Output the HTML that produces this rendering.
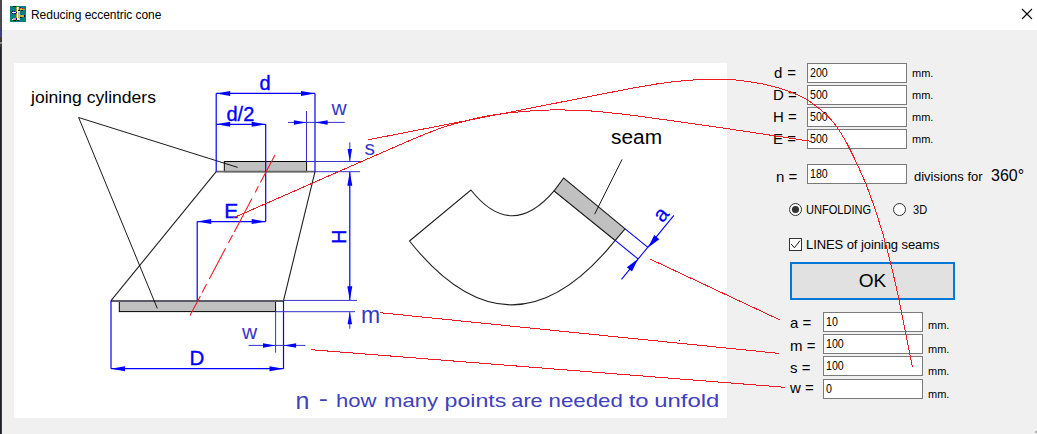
<!DOCTYPE html>
<html><head><meta charset="utf-8"><title>Reducing eccentric cone</title>
<style>
html,body{margin:0;padding:0;}
body{width:1037px;height:434px;background:#f0f0f0;position:relative;overflow:hidden;font-family:"Liberation Sans",sans-serif;color:#000;}
.abs{position:absolute;white-space:nowrap;line-height:1;}
#titlebar{position:absolute;left:0;top:0;width:1037px;height:30px;background:#fff;}
#panel{position:absolute;left:14px;top:63px;width:713px;height:355px;background:#fff;}
.inp{position:absolute;box-sizing:border-box;width:100px;height:20px;background:#fff;border:1px solid #7a7a7a;font-size:11px;line-height:18px;padding-left:1.6px;}
.v{display:inline-block;font-size:12.7px;transform:scaleX(0.84);transform-origin:0 50%;}
.lbl{position:absolute;font-size:15px;line-height:1;white-space:nowrap;}
.mm{position:absolute;font-size:11px;line-height:1;white-space:nowrap;}
.t13{position:absolute;font-size:13px;line-height:1;white-space:nowrap;}
svg{position:absolute;left:0;top:0;}
</style></head><body>
<div id="titlebar"></div>
<div id="panel"></div>
<div class="abs" id="title" style="left:31px;top:9px;font-size:12px;letter-spacing:-0.045px;">Reducing eccentric cone</div>

<!-- right form -->
<div class="lbl" style="left:774px;top:65px;">d<span style="margin-left:0.8px"> =</span></div>
<div class="lbl" style="left:773px;top:87px;">D =</div>
<div class="lbl" style="left:773px;top:109px;">H =</div>
<div class="lbl" style="left:773px;top:131px;">E =</div>
<div class="inp" style="left:807px;top:63px;"><span class="v">200</span></div>
<div class="inp" style="left:807px;top:85px;"><span class="v">500</span></div>
<div class="inp" style="left:807px;top:107px;"><span class="v">500</span></div>
<div class="inp" style="left:807px;top:129px;"><span class="v">500</span></div>
<div class="mm" style="left:912px;top:68px;">mm.</div>
<div class="mm" style="left:912px;top:90px;">mm.</div>
<div class="mm" style="left:912px;top:112px;">mm.</div>
<div class="mm" style="left:912px;top:134px;">mm.</div>

<div class="lbl" style="left:776px;top:169px;">n =</div>
<div class="inp" style="left:807px;top:164px;"><span class="v">180</span></div>
<div class="t13" style="left:914px;top:170px;">divisions for</div>
<div class="lbl" style="left:991px;top:168px;font-size:16px;">360°</div>

<div class="t13" style="left:806px;top:203px;transform:scaleX(0.85);transform-origin:0 0;">UNFOLDING</div>
<div class="t13" style="left:913px;top:203px;transform:scaleX(0.85);transform-origin:0 0;">3D</div>
<div class="t13" style="left:806px;top:238px;letter-spacing:-0.08px;">LINES of joining seams</div>

<div class="abs" id="ok" style="left:790px;top:262px;width:165px;height:38px;box-sizing:border-box;border:2px solid #0078d7;background:#e1e1e1;text-align:center;font-size:19px;line-height:34px;">OK</div>

<div class="lbl" style="left:790px;top:315px;">a =</div>
<div class="lbl" style="left:790px;top:338px;">m =</div>
<div class="lbl" style="left:790px;top:360px;">s =</div>
<div class="lbl" style="left:790px;top:380px;">w =</div>
<div class="inp" style="left:823px;top:312px;"><span class="v">10</span></div>
<div class="inp" style="left:823px;top:334px;"><span class="v">100</span></div>
<div class="inp" style="left:823px;top:356px;"><span class="v">100</span></div>
<div class="inp" style="left:823px;top:379px;"><span class="v">0</span></div>
<div class="mm" style="left:928px;top:320px;">mm.</div>
<div class="mm" style="left:928px;top:344px;">mm.</div>
<div class="mm" style="left:928px;top:366px;">mm.</div>
<div class="mm" style="left:928px;top:389px;">mm.</div>

<svg id="dia" width="1037" height="434" viewBox="0 0 1037 434" style="pointer-events:none">
<defs>
<path id="ah" d="M0 0 L14 -2.5 L14 2.5 Z" fill="#0000ff"/>
<path id="ah2" d="M0 0 L13.5 -3.3 L13.5 3.3 Z" fill="#0000ff"/>
</defs>
<!-- left band -->
<rect x="0" y="0" width="2" height="434" fill="#1c2024"/>
<rect x="0" y="0" width="2" height="28" fill="#4a4a4e"/>
<rect x="0" y="28" width="2" height="9" fill="#40407c"/>
<rect x="0" y="37" width="2" height="10" fill="#3a3a3a"/>
<rect x="0" y="42" width="2" height="2" fill="#8a8a8a"/>
<rect x="1" y="47" width="1" height="387" fill="#3a3e42"/>
<rect x="1035" y="431" width="2" height="2" fill="#b4b4b4"/>

<!-- close X -->
<path d="M1022 9 L1032 19 M1032 9 L1022 19" stroke="#000" stroke-width="1.1" fill="none"/>

<!-- icon -->
<g id="icon" shape-rendering="crispEdges">
<rect x="10" y="6" width="16" height="16" fill="#008080"/>
<rect x="13" y="6" width="1" height="1" fill="#000"/>
<rect x="14" y="6" width="2" height="1" fill="#000040"/>
<rect x="16" y="6" width="1" height="1" fill="#00a000"/>
<rect x="16" y="7" width="1" height="1" fill="#b0a020"/>
<rect x="17" y="7" width="1" height="1" fill="#fff"/>
<rect x="18" y="7" width="1" height="1" fill="#f0f0f0"/>
<rect x="20" y="7" width="1" height="1" fill="#0000c0"/>
<rect x="16" y="8" width="1" height="1" fill="#b0a020"/>
<rect x="17" y="8" width="1" height="1" fill="#fff"/>
<rect x="18" y="8" width="1" height="1" fill="#c8c8c8"/>
<rect x="20" y="8" width="2" height="1" fill="#c0b030"/>
<rect x="22" y="8" width="1" height="1" fill="#e00000"/>
<rect x="23" y="8" width="1" height="1" fill="#00a000"/>
<rect x="16" y="9" width="1" height="1" fill="#b0a020"/>
<rect x="17" y="9" width="1" height="1" fill="#fff"/>
<rect x="18" y="9" width="1" height="1" fill="#c0c0c0"/>
<rect x="20" y="9" width="4" height="1" fill="#c8b820"/>
<rect x="24" y="9" width="1" height="1" fill="#a89818"/>
<rect x="16" y="10" width="1" height="1" fill="#b0a020"/>
<rect x="17" y="10" width="1" height="1" fill="#fff"/>
<rect x="18" y="10" width="2" height="1" fill="#000"/>
<rect x="21" y="10" width="2" height="1" fill="#000"/>
<rect x="12" y="11" width="1" height="1" fill="#000"/>
<rect x="14" y="11" width="1" height="1" fill="#0000c0"/>
<rect x="16" y="11" width="1" height="1" fill="#b0a020"/>
<rect x="17" y="11" width="2" height="1" fill="#fff"/>
<rect x="19" y="11" width="1" height="1" fill="#e0e0e0"/>
<rect x="11" y="12" width="1" height="1" fill="#0000c0"/>
<rect x="12" y="12" width="3" height="1" fill="#fff"/>
<rect x="15" y="12" width="1" height="1" fill="#e8e8e8"/>
<rect x="16" y="12" width="1" height="1" fill="#000"/>
<rect x="17" y="12" width="1" height="1" fill="#fff"/>
<rect x="18" y="12" width="1" height="1" fill="#b0b0b0"/>
<rect x="19" y="12" width="1" height="1" fill="#c0c0c0"/>
<rect x="11" y="13" width="1" height="1" fill="#00a000"/>
<rect x="12" y="13" width="1" height="1" fill="#000040"/>
<rect x="14" y="13" width="1" height="1" fill="#0000c0"/>
<rect x="15" y="13" width="1" height="1" fill="#0000a0"/>
<rect x="16" y="13" width="1" height="1" fill="#b0a020"/>
<rect x="17" y="13" width="1" height="1" fill="#fff"/>
<rect x="18" y="13" width="1" height="1" fill="#b0b0b0"/>
<rect x="19" y="13" width="1" height="1" fill="#c0c0c0"/>
<rect x="16" y="14" width="1" height="1" fill="#b0a020"/>
<rect x="17" y="14" width="1" height="1" fill="#fff"/>
<rect x="18" y="14" width="1" height="1" fill="#b0b0b0"/>
<rect x="19" y="14" width="1" height="1" fill="#c0c0c0"/>
<rect x="21" y="14" width="1" height="1" fill="#0000c0"/>
<rect x="16" y="15" width="1" height="1" fill="#b0a020"/>
<rect x="17" y="15" width="1" height="1" fill="#fff"/>
<rect x="18" y="15" width="1" height="1" fill="#b0b0b0"/>
<rect x="19" y="15" width="1" height="1" fill="#c0c0c0"/>
<rect x="20" y="15" width="4" height="1" fill="#c8b820"/>
<rect x="24" y="15" width="1" height="1" fill="#000"/>
<rect x="16" y="16" width="1" height="1" fill="#b0a020"/>
<rect x="17" y="16" width="1" height="1" fill="#fff"/>
<rect x="18" y="16" width="1" height="1" fill="#b0b0b0"/>
<rect x="19" y="16" width="1" height="1" fill="#c0c0c0"/>
<rect x="20" y="16" width="4" height="1" fill="#c8b820"/>
<rect x="24" y="16" width="1" height="1" fill="#000"/>
<rect x="15" y="17" width="1" height="1" fill="#00a000"/>
<rect x="16" y="17" width="1" height="1" fill="#b0a020"/>
<rect x="17" y="17" width="1" height="1" fill="#fff"/>
<rect x="18" y="17" width="1" height="1" fill="#c8b820"/>
<rect x="19" y="17" width="1" height="1" fill="#c0c0c0"/>
<rect x="20" y="17" width="1" height="1" fill="#000"/>
<rect x="21" y="17" width="1" height="1" fill="#0000c0"/>
<rect x="11" y="18" width="1" height="1" fill="#00a000"/>
<rect x="13" y="18" width="2" height="1" fill="#b0b0b0"/>
<rect x="15" y="18" width="1" height="1" fill="#a0a0a0"/>
<rect x="16" y="18" width="1" height="1" fill="#0000c0"/>
<rect x="17" y="18" width="2" height="1" fill="#fff"/>
<rect x="19" y="18" width="1" height="1" fill="#c0c0c0"/>
<rect x="11" y="19" width="1" height="1" fill="#e000e0"/>
<rect x="12" y="19" width="1" height="1" fill="#fff"/>
<rect x="13" y="19" width="2" height="1" fill="#b0b0b0"/>
<rect x="15" y="19" width="1" height="1" fill="#a0a0a0"/>
<rect x="16" y="19" width="1" height="1" fill="#000"/>
<rect x="17" y="19" width="2" height="1" fill="#fff"/>
<rect x="19" y="19" width="1" height="1" fill="#e0e0e0"/>
<rect x="12" y="20" width="1" height="1" fill="#00a000"/>
<rect x="13" y="20" width="3" height="1" fill="#000"/>
<rect x="16" y="20" width="1" height="1" fill="#00a000"/>
<rect x="17" y="20" width="2" height="1" fill="#000"/>
</g>

<!-- cone -->
<g fill="none" stroke-linecap="butt">
<!-- gray rects -->
<rect x="224.3" y="161.5" width="82.3" height="10.2" fill="#c0c0c0" stroke="#000" stroke-width="1"/>
<rect x="119.3" y="301" width="156.3" height="10.6" fill="#c0c0c0" stroke="#000" stroke-width="1"/>
<line x1="216.2" y1="171.6" x2="315" y2="171.6" stroke="#686868" stroke-width="1.7"/>
<line x1="111" y1="301" x2="283.5" y2="301" stroke="#5a5a68" stroke-width="1.8"/>
<line x1="216.2" y1="171.7" x2="111" y2="300.6" stroke="#202020" stroke-width="1.1"/>
<line x1="315" y1="171.7" x2="283.5" y2="300.6" stroke="#202020" stroke-width="1.1"/>
<!-- leaders -->
<path d="M237.7 167.4 L78.6 117.5 L157.3 308.4" stroke="#000" stroke-width="0.9"/>
</g>

<!-- blue dims -->
<g stroke="#0000ff" stroke-width="1.2" fill="none">
<line x1="216.2" y1="93.4" x2="216.2" y2="171.7"/>
<line x1="315" y1="93.4" x2="315" y2="171.7"/>
<line x1="216.2" y1="93.4" x2="315" y2="93.4"/>
<line x1="216.2" y1="124.3" x2="265.7" y2="124.3"/>
<line x1="265.7" y1="124.3" x2="265.7" y2="221.6"/>
<line x1="197.2" y1="221.6" x2="265.7" y2="221.6"/>
<line x1="197.2" y1="221.6" x2="197.2" y2="300.6"/>
<line x1="349.8" y1="171.7" x2="349.8" y2="300.3"/>
<line x1="111" y1="300.6" x2="111" y2="368.7"/>
<line x1="283.5" y1="300.6" x2="283.5" y2="368.7"/>
<line x1="111" y1="368.7" x2="283.5" y2="368.7"/>
</g>
<g stroke="#3333cc" stroke-width="1" fill="none">
<line x1="306.5" y1="111" x2="306.5" y2="161.5"/>
<line x1="288" y1="122.4" x2="344.7" y2="122.4"/>
<line x1="306.7" y1="161.5" x2="360" y2="161.5"/>
<line x1="315" y1="171.7" x2="360" y2="171.7"/>
<line x1="349.8" y1="142.4" x2="349.8" y2="161.5"/>
<line x1="283.5" y1="300.4" x2="357" y2="300.4"/>
<line x1="275.6" y1="311.7" x2="355" y2="311.7"/>
<line x1="349.8" y1="311.7" x2="349.8" y2="328.7"/>
<line x1="275.6" y1="311.7" x2="275.6" y2="352.7"/>
<line x1="248.5" y1="345.4" x2="305.5" y2="345.4"/>
</g>
<!-- arrowheads -->
<use href="#ah" transform="translate(216.2,93.4)"/>
<use href="#ah" transform="translate(315,93.4) rotate(180)"/>
<use href="#ah" transform="translate(216.2,124.3)"/>
<use href="#ah" transform="translate(265.7,124.3) rotate(180)"/>
<use href="#ah" transform="translate(197.2,221.6)"/>
<use href="#ah" transform="translate(265.7,221.6) rotate(180)"/>
<use href="#ah" transform="translate(111,368.7)"/>
<use href="#ah" transform="translate(283.5,368.7) rotate(180)"/>
<use href="#ah" transform="translate(349.8,171.7) rotate(90)"/>
<use href="#ah" transform="translate(349.8,300.3) rotate(-90)"/>
<use href="#ah" transform="translate(306.5,122.4) rotate(180) scale(0.9)"/>
<use href="#ah" transform="translate(315,122.4) scale(0.9)"/>
<use href="#ah" transform="translate(349.8,161.5) rotate(-90) scale(0.9)"/>
<use href="#ah" transform="translate(349.8,311.7) rotate(90) scale(0.9)"/>
<use href="#ah" transform="translate(275.6,345.4) rotate(180) scale(0.9)"/>
<use href="#ah" transform="translate(283.5,345.4) scale(0.9)"/>

<!-- unfolded shape -->
<g fill="none" stroke="#202020" stroke-width="1.1">
<path d="M409.5 241 L470.9 190 Q511.3 241 554.1 190.9 L615.2 240.4 Q511.3 369 409.5 241 Z"/>
<path d="M554.1 190.9 L563.7 178 L625.1 228.9 L615.2 240.4 Z" fill="#c0c0c0"/>
</g>
<line x1="622.1" y1="159.4" x2="594.6" y2="214.2" stroke="#000" stroke-width="0.9"/>
<g stroke="#0000ff" stroke-width="1.1" fill="none">
<line x1="625.1" y1="228.9" x2="648.2" y2="247.6"/>
<line x1="615.2" y1="240.4" x2="638" y2="258.9"/>
<line x1="673.9" y1="215.4" x2="621.5" y2="279.3"/>
</g>
<use href="#ah2" transform="translate(648.2,247.6) rotate(-50.6)"/>
<use href="#ah2" transform="translate(638,258.9) rotate(129.4)"/>

<!-- blue labels -->
<g font-family="Liberation Sans, sans-serif" font-size="20" fill="#0000ff" stroke="#0000ff" stroke-width="0.35">
<text x="259.5" y="89.6">d</text>
<text x="226.5" y="120.7">d/2</text>
<text x="224.3" y="218" font-size="21">E</text>
<text x="189.6" y="364.8" font-size="20.5">D</text>
<text transform="translate(346,244) rotate(-90)">H</text>
<text transform="translate(662.6,223.6) rotate(-50.6)" font-size="21.5" stroke-width="0.2">a</text>
</g>
<g font-family="Liberation Sans, sans-serif" font-size="21" fill="#3838c8">
<text x="331.5" y="115">w</text>
<text x="364.5" y="154.6">s</text>
<text x="361" y="323" font-size="23">m</text>
<text x="242" y="338.8">w</text>
</g>

<!-- black labels -->
<g font-family="Liberation Sans, sans-serif" fill="#000">
<text x="31" y="103" font-size="17" textLength="125" lengthAdjust="spacingAndGlyphs">joining cylinders</text>
<text x="611" y="144" font-size="20" textLength="51" lengthAdjust="spacingAndGlyphs">seam</text>
</g>
<g font-family="Liberation Sans, sans-serif" fill="#4040c0">
<text x="295.4" y="408.8" font-size="23.5" textLength="13.9" lengthAdjust="spacingAndGlyphs">n</text>
<text x="318.8" y="406" font-size="22" textLength="9.2" lengthAdjust="spacingAndGlyphs">-</text>
<text x="336.0" y="407.2" font-size="19" textLength="40.5" lengthAdjust="spacingAndGlyphs">how</text>
<text x="384.1" y="407.2" font-size="19" textLength="54.0" lengthAdjust="spacingAndGlyphs">many</text>
<text x="444.5" y="407.2" font-size="19" textLength="61.9" lengthAdjust="spacingAndGlyphs">points</text>
<text x="511.3" y="407.2" font-size="19" textLength="31.4" lengthAdjust="spacingAndGlyphs">are</text>
<text x="548.5" y="407.2" font-size="19" textLength="74.4" lengthAdjust="spacingAndGlyphs">needed</text>
<text x="628.7" y="407.2" font-size="19" textLength="19.9" lengthAdjust="spacingAndGlyphs">to</text>
<text x="654.2" y="407.2" font-size="19" textLength="65.2" lengthAdjust="spacingAndGlyphs">unfold</text>
</g>

<!-- red center line -->
<path d="M275.0 155.0 L260.4 182.6 M258.4 186.3 L255.2 192.4 M252.0 198.4 L234.3 231.9 M232.6 235.1 L228.4 243.0 M225.6 248.2 L209.3 279.0 M206.6 284.1 L202.2 292.5 M200.4 295.9 L190.0 315.5" stroke="#ed1c24" stroke-width="1.1" fill="none"/>

<!-- red callouts -->
<g stroke="#ed1c24" stroke-width="1" fill="none" shape-rendering="crispEdges">
<path id="rE" d="M233.0 218.0 C250.8 210.2 310.7 183.9 340.0 171.0 C369.3 158.1 392.3 147.9 409.0 140.8 C425.7 133.7 430.7 131.7 440.0 128.4 C449.3 125.1 456.8 123.3 465.0 121.2 C473.2 119.1 479.8 117.2 489.0 115.6 C498.2 114.0 509.9 112.7 520.0 111.8 C530.1 110.9 538.9 110.2 549.7 110.0 C560.5 109.8 574.6 110.1 585.0 110.6 C595.4 111.1 602.8 112.0 612.0 113.0 C621.2 114.0 621.2 113.8 640.0 116.3 C658.8 118.8 696.2 124.1 724.9 128.3 C753.6 132.5 797.5 139.3 812.0 141.5"/>
<path id="rS" d="M368.0 139.8 C380.0 137.5 417.2 130.2 440.0 125.8 C462.8 121.4 481.3 117.8 504.6 113.2 C527.9 108.6 557.4 102.8 580.0 98.4 C602.6 94.0 624.7 89.5 640.0 86.8 C655.3 84.0 661.2 83.2 671.8 81.9 C682.4 80.7 694.8 79.7 703.6 79.3 C712.5 78.9 717.8 79.0 724.9 79.3 C732.0 79.6 739.0 80.2 746.1 81.2 C753.2 82.2 760.2 83.3 767.3 85.0 C774.4 86.7 781.4 88.5 788.5 91.2 C795.6 93.9 802.6 96.7 809.7 101.4 C816.8 106.1 825.0 113.0 830.9 119.4 C836.8 125.8 840.6 132.4 845.0 140.0 C849.4 147.6 853.8 157.1 857.5 164.9 C861.2 172.7 864.1 179.4 867.1 187.0 C870.1 194.6 872.8 202.7 875.4 210.5 C878.0 218.3 880.5 225.8 882.9 234.0 C885.3 242.2 887.1 249.1 889.8 260.0 C892.5 270.9 895.4 282.8 898.9 299.4 C902.4 316.0 908.6 348.1 910.9 359.5 C913.2 370.9 912.2 366.2 912.5 367.5"/>
<line x1="650" y1="259" x2="780" y2="320"/>
<line x1="380" y1="312.7" x2="779" y2="353.4"/>
<line x1="311" y1="349.7" x2="785" y2="387.3"/>
</g>
<rect x="679" y="340" width="1" height="1" fill="#000"/>

<!-- radios / checkbox -->
<circle cx="795.5" cy="209.5" r="6" fill="#fff" stroke="#333" stroke-width="1"/>
<circle cx="795.5" cy="209.5" r="3.6" fill="#333"/>
<circle cx="899.5" cy="209.5" r="6" fill="#fff" stroke="#333" stroke-width="1"/>
<rect x="789.5" y="238.5" width="12" height="12" fill="#fff" stroke="#333" stroke-width="1"/>
<path d="M791.2 244 L794.4 247.8 L800 240.6" stroke="#1a1a1a" stroke-width="1" fill="none"/>
</svg>
</body></html>
